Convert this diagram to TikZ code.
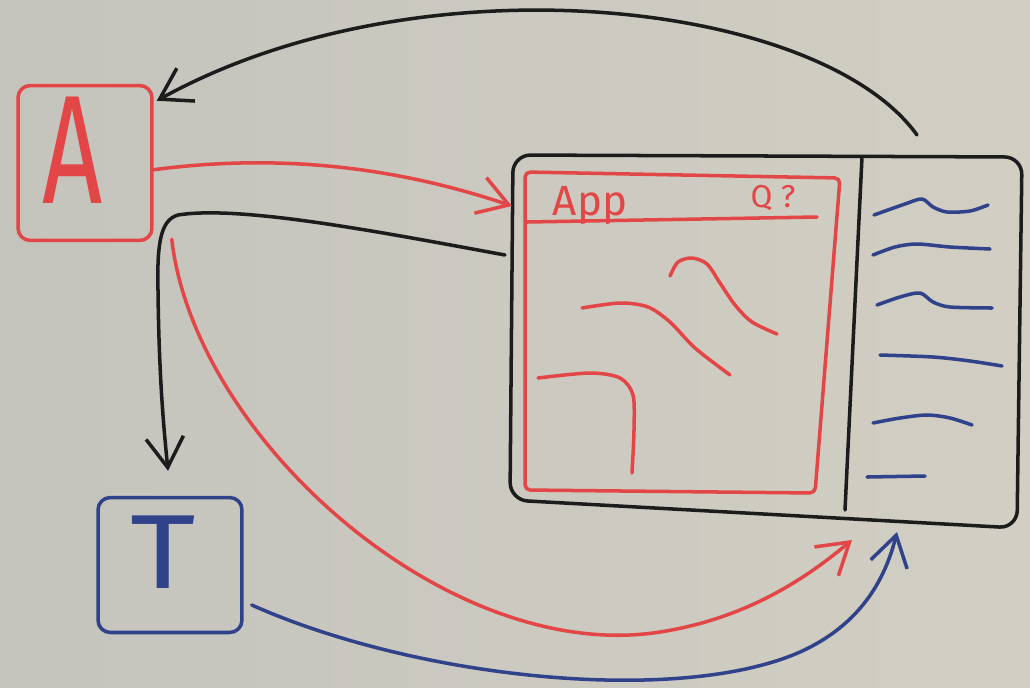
\documentclass[tikz,border=0pt]{standalone}
\usepackage{fontspec}
\newfontfamily\handfont{Fira Sans}
\usetikzlibrary{arrows.meta,calc}
\definecolor{boardl}{RGB}{196,196,189}
\definecolor{boardr}{RGB}{210,206,195}
\definecolor{mred}{RGB}{226,70,70}
\definecolor{mblue}{RGB}{48,66,138}
\definecolor{mblack}{RGB}{28,28,28}
\tikzset{
  pen/.style={line width=2pt, line cap=round, line join=round},
  redpen/.style={pen, draw=mred},
  bluepen/.style={pen, draw=mblue},
  blackpen/.style={pen, draw=mblack},
  barb/.style={-{Straight Barb[length=0.6cm,width=0.75cm]}},
  boxnode/.style={inner sep=0pt, rounded corners=7pt},
}
\begin{document}
\begin{tikzpicture}[x=0.02cm,y=-0.02cm]
\shade[left color=boardl, right color=boardr] (0,0) rectangle (1030,687);
\useasboundingbox (0,0) rectangle (1030,687);

% A and T boxes
\node[boxnode, redpen, minimum width=2.68cm, minimum height=3.1cm] (A) at (85,163) {};
\node[text=mred, inner sep=0pt, font=\handfont\fontsize{88}{88}\selectfont] (Aletter) at (73,150) {\scalebox{0.68}[1]{A}};
\node[boxnode, bluepen, minimum width=2.88cm, minimum height=2.7cm] (T) at (170,565) {};
\node[text=mblue, inner sep=0pt, font=\handfont\fontsize{60}{60}\selectfont] (Tletter) at (163,552) {\scalebox{1.2}[1]{T}};

% screen
\draw[blackpen, rounded corners=10pt] (513,155) -- (1022,157) -- (1017,528) -- (510,500) -- cycle;
\draw[blackpen] (862,157) -- (845,510);
% app window
\draw[redpen, rounded corners=3pt] (525,172) -- (840,178) -- (815,493) -- (525,490) -- cycle;
\draw[redpen] (527,222) -- (817,217);
\node[text=mred, inner sep=0pt, font=\handfont\fontsize{24}{24}\selectfont] (apptitle) at (590,205) {App};
\node[text=mred, inner sep=0pt, font=\handfont\fontsize{18}{18}\selectfont] (appicons) at (773,198) {Q ?};
% red content strokes
\draw[redpen] plot[smooth] coordinates {(670,276) (678,262) (692,258) (707,264) (720,283) (735,305) (752,322) (777,334)};
\draw[redpen] plot[smooth] coordinates {(582,308) (620,303) (648,307) (670,322) (695,348) (730,375)};
\draw[redpen] plot[smooth] coordinates {(538,378) (590,373) (620,378) (633,395) (634,430) (632,473)};
% blue list
\draw[bluepen] plot[smooth] coordinates {(874,215) (905,204) (922,199) (933,207) (947,212) (970,211) (988,205)};
\draw[bluepen] plot[smooth] coordinates {(873,255) (895,247) (917,244) (950,247) (990,249)};
\draw[bluepen] plot[smooth] coordinates {(877,305) (900,297) (920,293) (933,302) (950,307) (992,308)};
\draw[bluepen] plot[smooth] coordinates {(880,355) (933,357) (970,361) (1002,366)};
\draw[bluepen] plot[smooth] coordinates {(873,423) (900,418) (927,415) (950,418) (972,425)};
\draw[bluepen] (867,477) -- (925,476);

% connector end points
\coordinate (arcstart) at (917,135);
\coordinate (appin) at (512,206);
\coordinate (appout) at (505,255);
\coordinate (screenred) at (852,540);
\coordinate (screenblue) at (897,532);

% connectors
\draw[blackpen, barb] (arcstart) .. controls (820,0) and (420,-45) .. ($(A.north east)+(3,17)$);
\draw[redpen, barb] ($(A.east)+(-2,7)$) .. controls (300,150) and (420,175) .. (appin);
\draw[blackpen, barb] (appout) .. controls (380,232) and (240,205) .. (178,215)
   .. controls (160,220) and (157,245) .. (158,290)
   .. controls (159,380) and (164,430) .. ($(T.north)+(-2,-25)$);
\draw[redpen, barb] ($(A.south east)+(18,-3)$) .. controls (195,440) and (450,665) .. (660,632)
   .. controls (750,618) and (810,575) .. (screenred);
\draw[bluepen, barb] ($(T.east)+(8,40)$) .. controls (420,680) and (680,705) .. (800,652)
   .. controls (860,625) and (885,580) .. (screenblue);
\end{tikzpicture}
\end{document}
